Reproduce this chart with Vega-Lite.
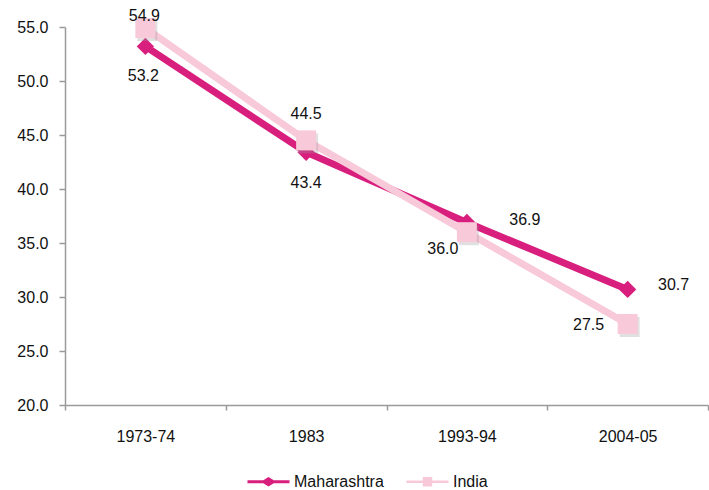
{
  "$schema": "https://vega.github.io/schema/vega-lite/v6.json",
  "width": 643,
  "height": 378,
  "autosize": {"type": "none"},
  "padding": {"left": 65, "top": 27, "right": 1, "bottom": 85},
  "background": "white",
  "config": {
    "view": {"stroke": null},
    "font": "Liberation Sans",
    "axis": {"labelFont": "Liberation Sans", "labelColor": "#111111", "domainColor": "#9a9a9a", "tickColor": "#9a9a9a", "domainWidth": 1.5, "tickWidth": 1.5, "grid": false, "title": null}
  },
  "data": {
    "values": [
      {"year": "1973-74", "series": "Maharashtra", "value": 53.2},
      {"year": "1983", "series": "Maharashtra", "value": 43.4},
      {"year": "1993-94", "series": "Maharashtra", "value": 36.9},
      {"year": "2004-05", "series": "Maharashtra", "value": 30.7},
      {"year": "1973-74", "series": "India", "value": 54.9},
      {"year": "1983", "series": "India", "value": 44.5},
      {"year": "1993-94", "series": "India", "value": 36.0},
      {"year": "2004-05", "series": "India", "value": 27.5}
    ]
  },
  "encoding": {
    "x": {
      "field": "year", "type": "ordinal",
      "sort": ["1973-74", "1983", "1993-94", "2004-05"],
      "scale": {"type": "band", "paddingInner": 0, "paddingOuter": 0},
      "axis": {"labelAngle": 0, "labelFontSize": 16, "tickBand": "extent", "tickSize": 5, "labelPadding": 18}
    },
    "y": {
      "field": "value", "type": "quantitative",
      "scale": {"domain": [20, 55], "nice": false, "zero": false},
      "axis": {"values": [20, 25, 30, 35, 40, 45, 50, 55], "format": ".1f", "labelFontSize": 16, "tickSize": 6, "labelPadding": 11}
    },
    "color": {
      "field": "series", "type": "nominal",
      "scale": {"domain": ["Maharashtra", "India"], "range": ["#D91F7E", "#F8C9D8"]},
      "legend": {
        "orient": "none", "legendX": 193, "legendY": 444, "direction": "horizontal",
        "title": null, "padding": 0, "labelFontSize": 16, "labelFont": "Liberation Sans", "labelColor": "#111111",
        "symbolSize": 441, "labelOffset": 15, "columnPadding": 22,
        "encode": {
          "symbols": {
            "update": {
              "shape": {"signal": "datum.value === 'Maharashtra' ? 'M-2,-0.15H-0.5L0,-0.45L0.5,-0.15H2V0.15H0.5L0,0.45L-0.5,0.15H-2Z' : 'M-2,-0.12H-0.45V-0.45H0.45V-0.12H2V0.12H0.45V0.45H-0.45V0.12H-2Z'"},
              "fill": {"scale": "color", "field": "value"},
              "stroke": {"value": "transparent"},
              "strokeWidth": {"value": 0},
              "opacity": {"value": 1}
            }
          }
        }
      }
    }
  },
  "layer": [
    {"mark": {"type": "line", "strokeWidth": 7, "strokeJoin": "miter"}},
    {
      "transform": [{"filter": "datum.series === 'Maharashtra'"}],
      "mark": {"type": "point", "shape": "diamond", "filled": true, "size": 300, "opacity": 1}
    },
    {
      "transform": [{"filter": "datum.series === 'India'"}],
      "mark": {"type": "point", "shape": "square", "filled": true, "size": 400, "opacity": 0.3, "xOffset": 2, "yOffset": 3},
      "encoding": {"color": {"value": "#999999"}}
    },
    {
      "transform": [{"filter": "datum.series === 'India'"}],
      "mark": {"type": "point", "shape": "square", "filled": true, "size": 400, "opacity": 1}
    },
    {
      "transform": [{"filter": "datum.series === 'Maharashtra' && datum.year === '1973-74'"}],
      "mark": {"type": "text", "fontSize": 16, "dx": -2, "dy": 30, "baseline": "middle"},
      "encoding": {"text": {"field": "value", "format": ".1f"}, "color": {"value": "#111111"}}
    },
    {
      "transform": [{"filter": "datum.series === 'Maharashtra' && datum.year === '1983'"}],
      "mark": {"type": "text", "fontSize": 16, "dy": 31, "baseline": "middle"},
      "encoding": {"text": {"field": "value", "format": ".1f"}, "color": {"value": "#111111"}}
    },
    {
      "transform": [{"filter": "datum.series === 'India' && datum.year === '1973-74'"}],
      "mark": {"type": "text", "fontSize": 16, "dx": -1, "dy": -12, "baseline": "middle"},
      "encoding": {"text": {"field": "value", "format": ".1f"}, "color": {"value": "#111111"}}
    },
    {
      "transform": [{"filter": "datum.series === 'India' && datum.year === '1983'"}],
      "mark": {"type": "text", "fontSize": 16, "dy": -26, "baseline": "middle"},
      "encoding": {"text": {"field": "value", "format": ".1f"}, "color": {"value": "#111111"}}
    },
    {
      "transform": [{"filter": "datum.series === 'Maharashtra' && datum.year === '1993-94'"}],
      "mark": {"type": "text", "fontSize": 16, "dx": 58, "dy": -2, "baseline": "middle"},
      "encoding": {"text": {"field": "value", "format": ".1f"}, "color": {"value": "#111111"}}
    },
    {
      "transform": [{"filter": "datum.series === 'India' && datum.year === '1993-94'"}],
      "mark": {"type": "text", "fontSize": 16, "dx": -24, "dy": 17, "baseline": "middle"},
      "encoding": {"text": {"field": "value", "format": ".1f"}, "color": {"value": "#111111"}}
    },
    {
      "transform": [{"filter": "datum.series === 'Maharashtra' && datum.year === '2004-05'"}],
      "mark": {"type": "text", "fontSize": 16, "dx": 46, "dy": -4, "baseline": "middle"},
      "encoding": {"text": {"field": "value", "format": ".1f"}, "color": {"value": "#111111"}}
    },
    {
      "transform": [{"filter": "datum.series === 'India' && datum.year === '2004-05'"}],
      "mark": {"type": "text", "fontSize": 16, "dx": -39, "dy": 1, "baseline": "middle"},
      "encoding": {"text": {"field": "value", "format": ".1f"}, "color": {"value": "#111111"}}
    }
  ]
}
